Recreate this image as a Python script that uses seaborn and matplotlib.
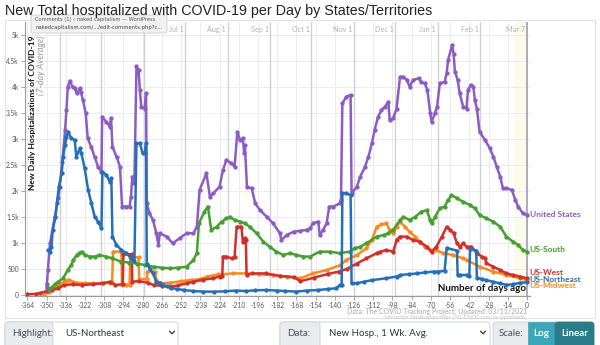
import numpy as np
import pandas as pd
import matplotlib
matplotlib.use("Agg")
import matplotlib.pyplot as plt
import seaborn as sns
from matplotlib.patches import Rectangle, FancyBboxPatch

# ---------------- data: 7-day average new hospitalizations (days before Mar 7) ----------------
us_days = [-350, -349, -347.5, -344, -341.5, -340.5, -338.5, -336.5, -335.5, -334.5, -333, -331, -329.5, -328,
           -325.5, -325, -323.5, -321.5, -320, -317.5, -315, -312.5, -310, -309.5, -306.5, -304, -303, -302, -299,
           -296.5, -295, -292, -289.5, -288.5, -287.5, -286, -284.5, -283, -282, -281, -278.5, -277.5, -277, -275,
           -272.5, -270, -268.5, -267.5, -262.5, -258, -253, -248, -243, -240.5, -238.5, -233.5, -231, -228.5, -224,
           -221.5, -219, -215.5, -213, -211, -209, -207, -206, -205.5, -204, -200.5, -198, -194.5, -189.5, -185, -180,
           -179, -175, -170, -165.5, -160.5, -158, -156, -152, -151, -148.5, -146, -144, -141, -136.5, -135.5, -134.5,
           -131.5, -128.5, -127.8, -124, -121.5, -118, -115.5, -113, -111, -108.5, -106, -103.5, -101, -100, -97.5,
           -95, -92.5, -90, -87.5, -85.5, -83, -79, -77, -74.5, -72.5, -70.5, -69.5, -67, -65.5, -63.5, -60, -58.5,
           -57.5, -54.5, -53.5, -52.5, -50.5, -49, -46.5, -44, -43, -41, -39, -38, -36.5, -34.5, -30.5, -27, -24.5,
           -22, -19.5, -17.5, -15, -11, -8.5, -6.5, -3, 0]
us_vals = [120, 480, 990, 1500, 1860, 2080, 2560, 3175, 3560, 4010, 4125, 4000, 3980, 3880, 3980, 3910, 3750, 3500,
           3015, 2850, 2660, 2470, 2370, 3430, 3335, 3240, 3400, 2850, 2660, 2470, 1700, 1700, 1700, 1890, 2275, 2150,
           4400, 4330, 3950, 3625, 3590, 3880, 1760, 1570, 1440, 1185, 960, 1185, 1120, 990, 1090, 1185, 1185, 1310,
           2020, 2340, 1890, 1955, 2080, 2400, 2600, 2535, 2470, 3140, 2980, 3015, 2725, 2885, 2080, 2050, 1760, 1630,
           1500, 1375, 1185, 1055, 1150, 1215, 1230, 1250, 1280, 1375, 1410, 1150, 1250, 1375, 1700, 1700, 1760, 1825,
           3690, 3820, 3850, 1955, 2080, 2275, 2470, 2660, 2920, 3175, 3430, 3560, 3625, 3720, 3370, 3400, 3590, 4200,
           4200, 4140, 4010, 4140, 4170, 4105, 4075, 3945, 3500, 3335, 3500, 3625, 4075, 4105, 4270, 4525, 4815, 4650,
           4300, 4140, 3880, 3625, 3590, 3945, 4045, 4010, 3750, 3590, 3140, 2980, 2820, 2660, 2470, 2275, 2050, 2050,
           2020, 1825, 1700, 1570, 1535]

ne_days = [-349, -347.5, -346.5, -345.5, -343.5, -342.5, -341, -339, -338, -336.5, -335.5, -334.3, -331.9, -329.5,
           -328.3, -325.8, -324.6, -322.2, -319.7, -317.3, -314.9, -312.5, -310, -309.3, -306.4, -304, -302.8, -302,
           -299.1, -295.4, -291.8, -288.2, -286, -284.5, -282, -280, -278.4, -277.5, -277, -274.8, -272.5, -270,
           -267.5, -265, -262.5, -259, -255, -250, -243, -236, -228, -220, -212, -205, -198, -190, -182, -176, -168,
           -160, -152, -145, -139, -136.3, -135, -134.5, -131.5, -128.5, -127.8, -124, -119, -113, -103, -95, -92.5,
           -86, -80, -74, -68, -64.6, -60, -58.5, -51, -50.5, -48.8, -44, -42, -41.5, -37, -36.5, -33, -29.5, -25,
           -20, -15, -10, -5, 0]
ne_vals = [860, 830, 925, 1250, 1500, 1760, 2080, 2340, 2660, 2885, 3045, 3140, 3015, 2980, 2660, 2820, 2725, 2435,
           2020, 1760, 1500, 1410, 1280, 2370, 2310, 2180, 2245, 1120, 960, 860, 800, 700, 650, 2920, 2920, 2725, 2725,
           2920, 600, 500, 415, 250, 220, 187, 160, 130, 110, 90, 70, 60, 58, 65, 80, 70, 85, 90, 80, 70, 60, 80, 90,
           110, 123, 187, 187, 1955, 1955, 1920, 220, 220, 250, 280, 315, 350, 380, 395, 410, 430, 445, 445, 460, 900,
           850, 380, 380, 380, 370, 880, 850, 330, 300, 280, 250, 220, 190, 200, 230, 240]

south_days = [-350, -349, -348, -346, -344, -341.5, -338, -334.5, -332, -330.5, -328, -326, -324.5, -322, -318.5,
              -314.5, -311.5, -306.5, -302, -296, -290, -284, -278, -272, -266, -260, -254, -248, -243, -240.5, -239,
              -235, -232.5, -230, -226, -222.5, -219, -216.5, -213, -209, -205.5, -202, -197, -192, -187.5, -182.5,
              -177.5, -172.5, -168, -163, -158, -151, -143.5, -136.5, -129, -125.5, -121.5, -117, -109.5, -104.5,
              -101, -97.5, -92.5, -90, -85.5, -81.5, -77, -73, -70.5, -69.5, -67, -63.5, -60, -57.5, -55, -51, -46.5,
              -41.5, -38, -34.5, -29.5, -24.5, -19.5, -15, -10, -6.5, -3, 0]
south_vals = [200, 123, 90, 140, 200, 250, 315, 480, 570, 670, 765, 800, 830, 765, 735, 735, 765, 735, 700, 640, 620,
              600, 570, 540, 520, 510, 520, 540, 670, 800, 1375, 1600, 1700, 1250, 1310, 1410, 1470, 1500, 1440, 1410,
              1375, 1310, 1185, 1020, 925, 830, 765, 800, 765, 735, 735, 830, 830, 800, 830, 895, 925, 990, 1120, 1150,
              1185, 1250, 1440, 1500, 1440, 1500, 1600, 1630, 1440, 1375, 1500, 1665, 1700, 1825, 1920, 1860, 1790,
              1730, 1665, 1535, 1470, 1410, 1310, 1120, 1020, 960, 860, 830]

mw_days = [-352, -348, -344, -340, -336, -334, -331, -328, -322, -316, -310, -304, -302.2, -301.6, -295.5, -295, -292,
           -289.5, -289, -283, -282.5, -277, -276.5, -271, -270, -267, -260, -252, -245, -238, -233, -225, -214, -205,
           -195, -185, -175, -165, -156, -146, -136, -131.5, -124, -117, -113, -109.5, -106, -102.5, -100, -97.5, -95,
           -92.5, -89, -85.5, -81.5, -78, -74.5, -70.5, -66, -61, -54, -46.5, -44, -34.5, -24.5, -15, -5, 0]
mw_vals = [0, 60, 120, 200, 270, 290, 250, 230, 220, 220, 220, 230, 240, 830, 830, 190, 187, 190, 720, 720, 300, 300,
           445, 445, 283, 220, 230, 260, 283, 300, 350, 390, 410, 410, 395, 380, 350, 315, 410, 475, 570, 670, 765, 895,
           1055, 1310, 1355, 1375, 1250, 1185, 1310, 1410, 1310, 1215, 1120, 1020, 925, 860, 860, 800, 765, 700, 670,
           540, 445, 380, 315, 283]

west_days = [-364, -358, -355, -350, -346, -341.5, -337, -331, -324, -316, -309, -304, -300, -294.5, -294, -288,
             -287.5, -283, -276, -272, -266, -260, -254, -248, -243, -236, -229, -224, -222, -221.5, -219, -215, -213,
             -211.5, -208, -207, -205.5, -204.8, -204.3, -200, -190, -180, -170, -165, -155, -145, -137, -131, -124,
             -117, -109.5, -107, -102.5, -97.4, -95, -92.6, -87.7, -83, -78, -73, -69.5, -66, -62, -58.5, -56, -53.5,
             -51, -49, -46.5, -44, -40.5, -36.5, -33, -30.5, -29.5, -24.5, -19.5, -15, -10, -5, 0]
west_vals = [10, 15, 27, 70, 100, 123, 187, 200, 187, 200, 220, 250, 187, 200, 780, 780, 250, 260, 230, 187, 170, 154,
             180, 220, 250, 290, 315, 350, 360, 735, 735, 700, 735, 1310, 1310, 1020, 1090, 1060, 380, 410, 410, 360,
             340, 260, 330, 400, 445, 500, 600, 700, 800, 830, 860, 830, 1055, 1120, 1120, 1055, 1020, 925, 830, 925,
             1120, 1310, 1250, 1185, 990, 925, 990, 925, 925, 800, 735, 700, 605, 540, 475, 410, 380, 350, 315]

regions = ["US-Midwest", "US-West", "US-South", "United States", "US-Northeast"]
region_days = [mw_days, west_days, south_days, us_days, ne_days]
region_vals = [mw_vals, west_vals, south_vals, us_vals, ne_vals]

x_ticks = list(range(-364, 1, 14))
y_ticks = [0, 500, 1000, 1500, 2000, 2500, 3000, 3500, 4000, 4500, 5000]
y_tick_labels = ["0", "500", "1k", "1.5k", "2k", "2.5k", "3k", "3.5k", "4k", "4.5k", "5k"]
month_lines = [-340, -310, -279, -249, -218, -187, -157, -126, -96, -65, -34, 0]
month_names = ["Jul 1", "Aug 1", "Sep 1", "Oct 1", "Nov 1", "Dec 1", "Jan 1", "Feb 1", "Mar 7"]
month_label_days = [-249, -218, -187, -157, -126, -96, -65, -34, 0]

# ---------------- style ----------------
sns.set_theme(style="white")
plt.rcParams["font.family"] = ["Lato", "DejaVu Sans"]

colors = {
    "United States": "#8c5cc4",
    "US-Northeast": "#2470b8",
    "US-South": "#45a030",
    "US-West": "#d0302b",
    "US-Midwest": "#f68b1f",
}

frames = []
for name, d, v in zip(regions, region_days, region_vals):
    assert len(d) == len(v), name
    frames.append(pd.DataFrame({"day": d, "value": v, "region": name}))
df = pd.concat(frames, ignore_index=True)

W, H = 600, 345
fig = plt.figure(figsize=(W / 100, H / 100), dpi=100)
fig.patch.set_facecolor("white")

# main plotting area, placed in pixel units
ax = fig.add_axes([25 / W, 1 - 296 / H, (530 - 25) / W, (296 - 22) / H])
ax.set_facecolor("white")
ax.set_xlim(-365.7, 2.2)
ax.set_ylim(-25, 5258)

ax.axvspan(-9, 0, color="#fbfbe9", zorder=0)
ax.set_xticks(x_ticks)
ax.set_xticklabels([str(t) for t in x_ticks])
ax.set_yticks(y_ticks)
ax.set_yticklabels(y_tick_labels)
ax.grid(True, color="#ebebf2", linewidth=0.7)
ax.set_axisbelow(True)
for d in month_lines[:-1]:
    ax.axvline(d, color="#d2d2d6", linewidth=1.0, zorder=1)
ax.axvline(0, color="#a9a4c2", linewidth=1.3, zorder=1)
for d, name in zip(month_label_days, month_names):
    ax.text(d - 1.2, 5123, name, ha="right", va="center", fontsize=5.2, color="#b3b3b3", zorder=1)

for s in ["top", "right"]:
    ax.spines[s].set_visible(False)
for s in ["left", "bottom"]:
    ax.spines[s].set_color("#9a9a9a")
    ax.spines[s].set_linewidth(0.8)
ax.tick_params(axis="both", length=3, width=0.6, color="#9a9a9a", labelsize=4.8, labelcolor="#555555", pad=1.5,
               left=True, bottom=True)

ax.text(-0.8, 110, "Number of days ago", ha="right", va="center", fontsize=7, fontweight="bold",
        color="#111111", zorder=1.5)

sns.lineplot(data=df, x="day", y="value", hue="region", hue_order=regions, palette=colors,
             estimator=None, sort=False, marker="o", markersize=3.1, markeredgewidth=0,
             linewidth=1.8, legend=False, ax=ax)
ax.set_xlabel("")
ax.set_ylabel("")

# end-of-line region labels
label_pos = {"United States": 1556, "US-South": 881, "US-West": 420, "US-Northeast": 300, "US-Midwest": 180}
for name in ["United States", "US-South", "US-West", "US-Northeast", "US-Midwest"]:
    ax.text(2.0, label_pos[name], name, ha="left", va="center", fontsize=6.0, fontweight="bold",
            color=colors[name], clip_on=False)

# ---------------- overlay in pixel coordinates ----------------
ov = fig.add_axes([0, 0, 1, 1], zorder=10)
ov.set_xlim(0, W)
ov.set_ylim(H, 0)
ov.axis("off")
ov.patch.set_alpha(0)

ov.add_patch(Rectangle((5, 20), 590, 298, fill=False, edgecolor="#e2e2e2", linewidth=0.8))

renderer = fig.canvas.get_renderer()


def fit(t, target, vertical=False):
    bb = t.get_window_extent(renderer=renderer)
    cur = bb.height if vertical else bb.width
    t.set_fontsize(t.get_fontsize() * target / cur)


title = ov.text(5, 11, "New Total hospitalized with COVID-19 per Day by States/Territories",
                ha="left", va="center", fontsize=12, color="#222222",
                family=["Liberation Sans", "DejaVu Sans"])
fit(title, 425)

ylab = ov.text(33, 113, "New Daily Hospitalizations of COVID-19", rotation=90, ha="center", va="center",
               fontsize=7, fontweight="bold", color="#111111")
fit(ylab, 155, vertical=True)
ysub = ov.text(41.5, 65, "(7-day Average)", rotation=90, ha="center", va="center",
               fontsize=6, fontstyle="italic", color="#9a9a9a")
fit(ysub, 60, vertical=True)

# browser tooltip box over the top-left of the chart
ov.add_patch(FancyBboxPatch((31, 15), 136, 18, boxstyle="round,pad=0,rounding_size=2",
                            facecolor="#f1f1f1", edgecolor="#cfcfcf", linewidth=0.6))
tip1 = ov.text(35, 19.5, "Comments (1) \u2039 naked capitalism \u2014 WordPress", ha="left", va="center",
               fontsize=4.6, color="#555555", family=["DejaVu Sans"])
fit(tip1, 122)
tip2 = ov.text(35, 28, "nakedcapitalism.com/.../edit-comments.php?c...", ha="left", va="center",
               fontsize=4.6, color="#444444", family=["DejaVu Sans"])
fit(tip2, 126)

# source credits
src = ov.text(527, 311.5, "Data: The COVID Tracking Project; Updated: 03/11/2021", ha="right", va="center",
              fontsize=6, fontweight="bold", color="#bdbdbd")
fit(src, 181)
viz = ov.text(527, 318, "Interactive Visualization: https://91-DIVOC.com/ by @profwade_", ha="right",
              va="center", fontsize=3.5, color="#c2c2c2")
fit(viz, 141)


# ---------------- control bar ----------------
def box(x0, x1, face, edge="#ced4da", r=3):
    ov.add_patch(FancyBboxPatch((x0, 322), x1 - x0, 26, boxstyle=f"round,pad=0,rounding_size={r}",
                                facecolor=face, edgecolor=edge, linewidth=0.7))


def chevron(x, y):
    ov.plot([x - 2.5, x, x + 2.5], [y - 1.3, y + 1.3, y - 1.3], color="#333333", linewidth=0.9)


box(5, 178, "white")
box(5, 53, "#e9ecef")
ov.text(12, 333, "Highlight:", ha="left", va="center", fontsize=7, color="#495057")
ov.text(65, 333, "US-Northeast", ha="left", va="center", fontsize=7, color="#333333")
chevron(172, 332.5)

box(280, 490, "white")
box(280, 320, "#e9ecef")
ov.text(287, 333, "Data:", ha="left", va="center", fontsize=7, color="#495057")
ov.text(329, 333, "New Hosp., 1 Wk. Avg.", ha="left", va="center", fontsize=7, color="#333333")
chevron(483, 332.5)

box(493, 594, "#e9ecef")
ov.text(499, 333, "Scale:", ha="left", va="center", fontsize=7, color="#495057")
ov.add_patch(Rectangle((528, 322), 27, 26, facecolor="#3aa6ba", edgecolor="#3aa6ba", linewidth=0.5))
ov.add_patch(FancyBboxPatch((555, 322), 39, 26, boxstyle="round,pad=0,rounding_size=3",
                            facecolor="#2b7c8a", edgecolor="#2b7c8a", linewidth=0.5))
ov.text(541.5, 333, "Log", ha="center", va="center", fontsize=7, fontweight="bold", color="white")
ov.text(574.5, 333, "Linear", ha="center", va="center", fontsize=7, fontweight="bold", color="white")

fig.savefig("out.png", dpi=100, facecolor="white")
